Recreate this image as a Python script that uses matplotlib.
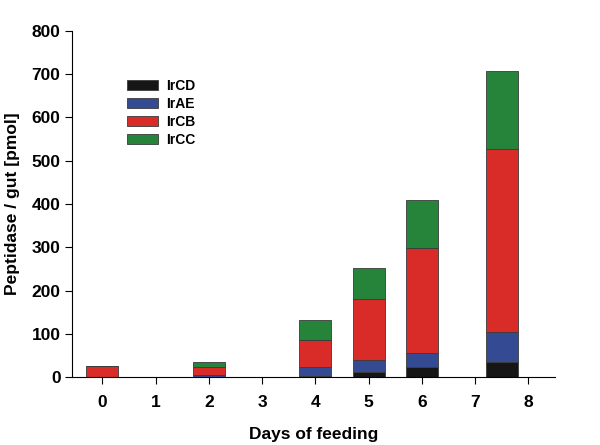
import numpy as np
import matplotlib
matplotlib.use('Agg')
import matplotlib.pyplot as plt

# Jours d'alimentation et valeurs empilées (pmol / intestin)
days = [0, 2, 4, 5, 6, 7.5]
ircd = [0, 0, 2, 13, 23, 35]
irae = [0, 5, 22, 27, 34, 69]
ircb = [26, 18, 62, 141, 241, 422]
ircc = [0, 12, 47, 72, 111, 180]

series = [('IrCD', ircd, '#161616'),
          ('IrAE', irae, '#344a93'),
          ('IrCB', ircb, '#d92b27'),
          ('IrCC', ircc, '#26843a')]

plt.rcParams['font.family'] = ['Liberation Sans', 'DejaVu Sans']
plt.rcParams['font.weight'] = 'bold'

fig = plt.figure(figsize=(6, 4.45), dpi=100)
ax = fig.add_axes([0.1195, 0.152, 0.8055, 0.779])

bottom = np.zeros(len(days))
for name, vals, col in series:
    ax.bar(days, vals, width=0.6, bottom=bottom, color=col, label=name,
           edgecolor='#3a3a3a', linewidth=0.6)
    bottom += np.array(vals)

ax.set_xlim(-0.575, 8.5)
ax.set_ylim(0, 800)
ax.set_xticks(range(0, 9))
ax.set_yticks(range(0, 801, 100))

ax.spines['top'].set_visible(False)
ax.spines['right'].set_visible(False)
ax.tick_params(direction='out', length=5, width=0.8, labelsize=12.5)
ax.tick_params(axis='x', pad=8)
ax.tick_params(axis='y', pad=3)
for lab in ax.get_xticklabels() + ax.get_yticklabels():
    lab.set_fontweight('bold')

ax.set_xlabel('Days of feeding', fontsize=12.5, fontweight='bold', labelpad=12)
ax.set_ylabel('Peptidase / gut [pmol]', fontsize=12.5, fontweight='bold', labelpad=8)

leg = ax.legend(loc='upper left', bbox_to_anchor=(0.114, 0.862), frameon=False,
                fontsize=10, handlelength=2.27, handleheight=0.72, handletextpad=0.55,
                labelspacing=0.29, borderpad=0, borderaxespad=0)
for t in leg.get_texts():
    t.set_fontweight('bold')

plt.savefig('out.png', dpi=100)
